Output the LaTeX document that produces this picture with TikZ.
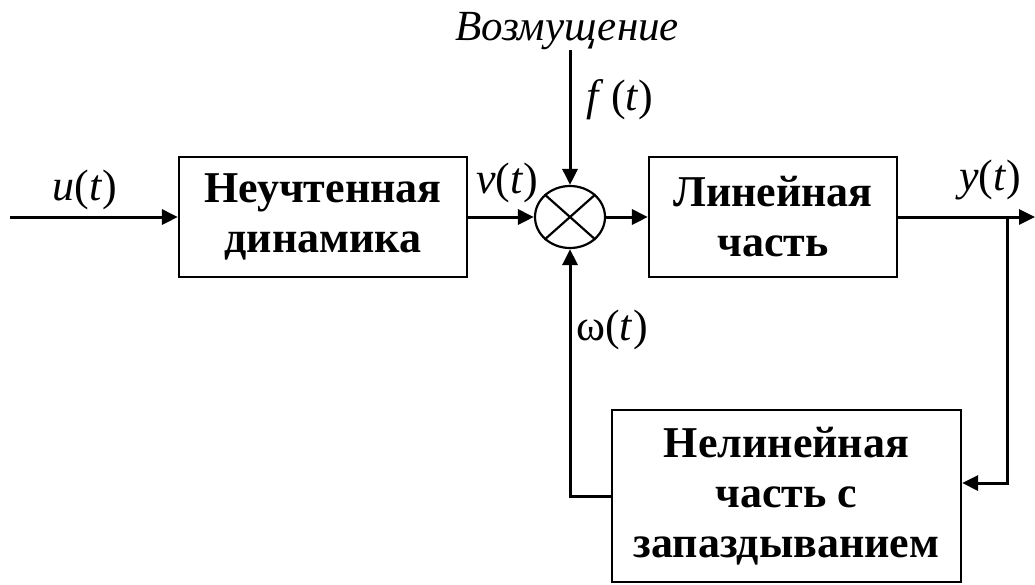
\documentclass[tikz,border=0pt]{standalone}
\usepackage{fontspec}
\setmainfont{Liberation Serif}
\usetikzlibrary{arrows.meta,shapes.geometric}
\begin{document}
\begin{tikzpicture}[x=1pt,y=-1pt,
  blk/.style={draw,line width=2.2pt,align=center,font=\fontsize{44}{50}\selectfont\bfseries,inner sep=0pt},
  arr/.style={line width=3pt,-{Triangle[length=16pt,width=15pt]}},
  lbl/.style={font=\fontsize{44}{50}\selectfont,inner sep=0pt}]
\useasboundingbox (0,0) rectangle (1035,584);
\node[blk,minimum width=288pt,minimum height=120pt] (b1) at (323,217) {Неучтенная\\динамика};
\node[blk,minimum width=248pt,minimum height=120pt] (b2) at (773,217) {Линейная\\часть};
\node[blk,minimum width=349pt,minimum height=172pt] (b3) at (786.5,496) {Нелинейная\\часть с\\запаздыванием};
\node[ellipse,draw,line width=2.2pt,minimum width=70pt,minimum height=62pt,inner sep=0pt] (sum) at (570,217) {};
\draw[line width=2.2pt] (sum.north west) -- (sum.south east) (sum.north east) -- (sum.south west);
\coordinate (in) at (10,217);
\coordinate (out) at (1035,217);
\coordinate (br) at (1007,217);
\coordinate (brd) at (1007,483);
\coordinate (dist) at (570,50);
\draw[arr] (in) -- (b1.west);
\draw[arr] (b1.east) -- (sum.west);
\draw[arr] (sum.east) -- (b2.west);
\draw[arr] (b2.east) -- (out);
\draw[arr] (br) -- (brd) -- (b3.east |- brd);
\draw[arr] (b3.west) -| (sum.south);
\draw[arr] (dist) -- (sum.north);
\node[lbl,font=\fontsize{43}{50}\selectfont\itshape] (dl) at (567,31) {Возмущение};
\node[lbl] (fl) at (620,100) {\textit{f}\,(\textit{t})};
\node[lbl] (vl) at (507,183) {\textit{v}(\textit{t})};
\node[lbl] (ul) at (85,190) {\textit{u}(\textit{t})};
\node[lbl] (yl) at (990,180) {\textit{y}(\textit{t})};
\node[lbl] (wl) at (612,330) {ω(\textit{t})};
\end{tikzpicture}
\end{document}
